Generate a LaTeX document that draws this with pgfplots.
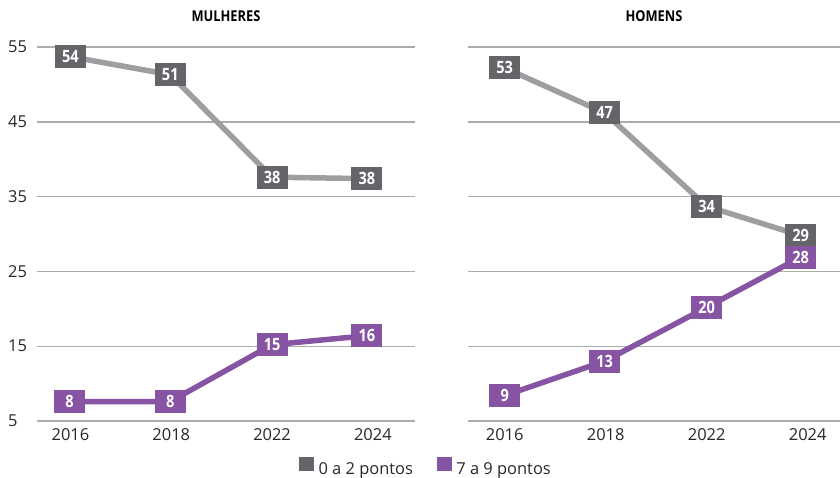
\documentclass[border=0pt]{standalone}
\usepackage{fontspec}
\setmainfont{Open Sans}
\newfontfamily\condfont[FakeStretch=0.86]{Open Sans}
\usepackage{pgfplots}
\pgfplotsset{compat=1.18}
\definecolor{boxgray}{RGB}{100,101,105}
\definecolor{linegray}{RGB}{158,158,160}
\definecolor{purp}{RGB}{134,84,163}
\definecolor{gridc}{RGB}{172,172,172}
\definecolor{tickc}{RGB}{40,40,40}

\pgfplotsset{
  panel/.style={
    scale only axis, height=374bp,
    ymin=5, ymax=55, ytick={5,15,25,35,45,55},
    ymajorgrids, grid style={gridc, line width=1.4bp},
    axis line style={draw=none}, major tick length=0pt,
    xtick={0,1,2,3}, xticklabels={2016,2018,2022,2024},
    tick label style={font=\fontsize{16.5}{18}\selectfont, text=tickc},
    xticklabel style={yshift=-4bp},
    yticklabel style={anchor=west, inner sep=0pt, xshift=-29bp},
    /pgf/number format/assume math mode=true,
    clip=false,
    title style={at={(0.5,1)}, anchor=base, yshift=20bp,
      font=\condfont\bfseries\fontsize{15}{15}\selectfont},
    nodes near coords, point meta=explicit symbolic,
  },
  lbl/.style={every node near coord/.append style={anchor=center, fill=#1, text=white,
      minimum width=31bp, minimum height=23bp, inner sep=0pt,
      font=\condfont\bfseries\fontsize{17}{17}\selectfont}},
  sq/.style={legend image code/.code={\fill[#1] (0bp,-1bp) rectangle (14bp,12bp);}},
}

\begin{document}
\begin{tikzpicture}
\path[use as bounding box] (0,0) rectangle (840bp,478bp);

\begin{axis}[panel, at={(37bp,57bp)}, anchor=south west, width=378bp,
  xmin=-0.332, xmax=3.418, title={MULHERES},
  legend columns=2,
  legend style={at={(axis description cs:1.029,0)}, anchor=south, yshift=-57bp,
    draw=none, fill=none, inner sep=0pt,
    font=\fontsize{16.5}{18}\selectfont, text=tickc,
    /tikz/every odd column/.append style={column sep=3bp},
    /tikz/every even column/.append style={column sep=22bp}},
  ]
\addplot[linegray, line width=5.5bp, lbl=boxgray, forget plot] table[meta=lab, row sep=\\] {
x y lab \\
0 53.7 54 \\
0.99 51.3 51 \\
2.0 37.6 38 \\
2.94 37.4 38 \\
};
\addplot[purp, line width=5.5bp, lbl=purp, forget plot] table[meta=lab, row sep=\\] {
x y lab \\
-0.01 7.6 8 \\
0.99 7.6 8 \\
2.0 15.2 15 \\
2.94 16.4 16 \\
};
\addlegendimage{sq=boxgray}
\addlegendentry{0 a 2 pontos}
\addlegendimage{sq=purp}
\addlegendentry{7 a 9 pontos}
\end{axis}

\begin{axis}[panel, at={(468bp,57bp)}, anchor=south west, width=372bp,
  xmin=-0.363, xmax=3.32, title={HOMENS}, yticklabels={}]
\addplot[linegray, line width=5.5bp, lbl=boxgray] table[meta=lab, row sep=\\] {
x y lab \\
0 52.2 53 \\
0.99 46.2 47 \\
2.0 33.7 34 \\
2.93 29.8 29 \\
};
\addplot[purp, line width=5.5bp, lbl=purp] table[meta=lab, row sep=\\] {
x y lab \\
0 8.4 9 \\
0.99 13.0 13 \\
2.0 20.2 20 \\
2.93 26.9 28 \\
};
\end{axis}
\end{tikzpicture}
\end{document}
